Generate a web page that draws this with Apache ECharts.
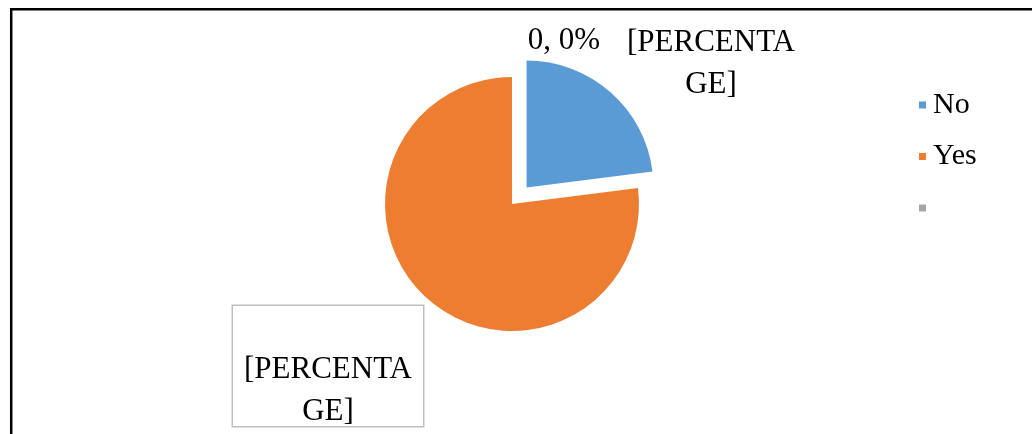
<!DOCTYPE html>
<html>
<head>
<meta charset="utf-8">
<script src="https://cdn.jsdelivr.net/npm/echarts@6/dist/echarts.min.js"></script>
<style>
  html, body { margin: 0; padding: 0; background: #ffffff; }
  #chart { width: 1032px; height: 434px; }
</style>
</head>
<body>
<div id="chart"></div>
<script>
// Survey answers
const categories = ['No', 'Yes', ' '];
const answerCounts = [23, 77, 0];
const sliceColors = ['#5B9BD5', '#ED7D31', '#A5A5A5'];

const FONT = '"Liberation Serif", "Times New Roman", serif';
const PIE_CENTER = [512, 204];
const PIE_RADIUS = 127;

// Where each slice's data label sits (No, Yes, empty)
const labelSpots = [
  { x: 711, y: 64, align: 'center', verticalAlign: 'middle' },
  { x: 328, y: 306, align: 'center', verticalAlign: 'top' },
  { x: 564, y: 41, align: 'center', verticalAlign: 'middle' }
];

// Visible slices; "No" is pulled out of the pie
const sliceData = categories.map((name, i) => ({
  name: name,
  value: answerCounts[i],
  selected: i === 0,
  itemStyle: { color: sliceColors[i] }
}));

// Same values again, transparent, carrying the data labels
const labelData = categories.map((name, i) => {
  const item = { name: name, value: answerCounts[i] };
  if (i === 1) {
    item.label = {
      borderColor: '#BFBFBF',
      borderWidth: 1.5,
      backgroundColor: '#ffffff',
      padding: [43, 8, 0, 8],
      width: 174,
      height: 77
    };
  }
  return item;
});

const chart = echarts.init(document.getElementById('chart'), null, { renderer: 'canvas' });

chart.setOption({
  animation: false,
  backgroundColor: '#ffffff',
  graphic: [{
    type: 'rect',
    shape: { x: 11.2, y: 9.2, width: 1200, height: 600 },
    style: { fill: 'none', stroke: '#000000', lineWidth: 2.5 },
    silent: true,
    z: 10
  }],
  legend: {
    orient: 'vertical',
    left: 914,
    top: 85,
    icon: 'rect',
    itemWidth: 7,
    itemHeight: 7,
    itemGap: 21.5,
    selectedMode: false,
    data: categories,
    textStyle: {
      fontFamily: FONT,
      fontSize: 30,
      lineHeight: 30,
      color: '#000000',
      padding: [0, 0, 0, 2]
    }
  },
  series: [{
    type: 'pie',
    name: 'answers',
    center: PIE_CENTER,
    radius: PIE_RADIUS,
    startAngle: 90,
    clockwise: true,
    selectedMode: 'single',
    selectedOffset: 22,
    emphasis: { disabled: true },
    itemStyle: { borderWidth: 0 },
    label: { show: false },
    labelLine: { show: false },
    data: sliceData
  }, {
    type: 'pie',
    name: 'labels',
    center: PIE_CENTER,
    radius: PIE_RADIUS,
    startAngle: 90,
    clockwise: true,
    silent: true,
    selectedMode: false,
    avoidLabelOverlap: false,
    emphasis: { disabled: true },
    itemStyle: { color: 'rgba(0,0,0,0)', borderWidth: 0 },
    labelLine: { show: false },
    label: {
      show: true,
      position: 'inside',
      overflow: 'none',
      fontFamily: FONT,
      fontSize: 31,
      lineHeight: 42,
      color: '#000000',
      align: 'center',
      formatter: function (p) {
        if (p.value === 0) return p.value + ', ' + Math.round(p.percent) + '%';
        return '[PERCENTA\nGE]';
      }
    },
    labelLayout: function (params) {
      const spot = labelSpots[params.dataIndex];
      return { x: spot.x, y: spot.y, align: spot.align, verticalAlign: spot.verticalAlign };
    },
    data: labelData
  }]
});
</script>
</body>
</html>
